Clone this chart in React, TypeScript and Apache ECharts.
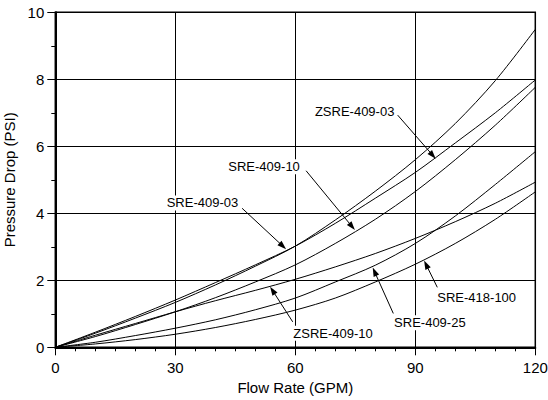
import React, { useEffect, useRef } from "react";
import * as echarts from "echarts";

const flowRate = [0, 10, 20, 30, 40, 50, 60, 70, 80, 90, 100, 110, 120];
const sre40903 = [0, 0.42, 0.87, 1.34, 1.86, 2.42, 3.02, 3.8, 4.66, 5.6, 6.68, 7.96, 9.49];
const zsre40903 = [0, 0.45, 0.92, 1.41, 1.93, 2.46, 3.02, 3.7, 4.45, 5.22, 6.1, 7.0, 7.98];
const sre40910 = [0, 0.32, 0.68, 1.06, 1.48, 1.95, 2.46, 3.1, 3.82, 4.65, 5.6, 6.63, 7.76];
const zsre40910 = [0, 0.36, 0.71, 1.06, 1.39, 1.7, 2.03, 2.4, 2.8, 3.25, 3.75, 4.3, 4.93];
const sre40925 = [0, 0.15, 0.35, 0.57, 0.82, 1.12, 1.47, 1.95, 2.45, 3.1, 3.92, 4.86, 5.84];
const sre418100 = [0, 0.1, 0.23, 0.39, 0.59, 0.83, 1.11, 1.47, 1.95, 2.48, 3.1, 3.82, 4.64];

const seriesList = [
  { name: "SRE-409-03", values: sre40903 },
  { name: "ZSRE-409-03", values: zsre40903 },
  { name: "SRE-409-10", values: sre40910 },
  { name: "ZSRE-409-10", values: zsre40910 },
  { name: "SRE-409-25", values: sre40925 },
  { name: "SRE-418-100", values: sre418100 },
];

// annotation: label, text anchor (left-middle), leader tail, arrow tip — in data units
const annotations = [
  { label: "ZSRE-409-03", text: [64.9, 7.03], tail: [85.6, 6.93], tip: [95.1, 5.63] },
  { label: "SRE-409-10", text: [43.25, 5.39], tail: [62.7, 5.27], tip: [74.9, 3.5] },
  { label: "SRE-409-03", text: [27.85, 4.31], tail: [46.7, 4.15], tip: [57.7, 2.93] },
  { label: "ZSRE-409-10", text: [59.5, 0.42], tail: [59.35, 0.76], tip: [53.7, 1.81] },
  { label: "SRE-409-25", text: [84.7, 0.73], tail: [84.5, 1.01], tip: [79.35, 2.38] },
  { label: "SRE-418-100", text: [95.5, 1.49], tail: [95.5, 1.79], tip: [92.2, 2.59] },
];

const FONT = '"Liberation Sans", Arial, Helvetica, sans-serif';

export default function App() {
  const ref = useRef<HTMLDivElement>(null);
  useEffect(() => {
    if (!ref.current) return;
    const chart = echarts.init(ref.current, null, { renderer: "svg" });
    chart.setOption({
      animation: false,
      backgroundColor: "#fff",
      textStyle: { fontFamily: FONT, color: "#000" },
      grid: {
        left: 55.3,
        right: 12.7,
        top: 12.3,
        bottom: 52.7,
        containLabel: false,
        outerBoundsMode: "none",
        show: true,
        borderColor: "#000",
        borderWidth: 1.5,
        backgroundColor: "transparent",
      },
      xAxis: {
        type: "value",
        min: 0,
        max: 120,
        interval: 30,
        name: "Flow Rate (GPM)",
        nameLocation: "middle",
        nameGap: 33,
        nameTextStyle: { fontSize: 15, color: "#000", fontFamily: FONT },
        axisLine: { show: true, lineStyle: { color: "#000", width: 2 } },
        axisTick: { show: true, inside: false, length: 8, lineStyle: { color: "#000", width: 1 } },
        minorTick: { show: true, splitNumber: 6, length: 4, lineStyle: { color: "#000", width: 1 } },
        axisLabel: { fontSize: 15, color: "#000", margin: 13, fontFamily: FONT },
        splitLine: { show: true, lineStyle: { color: "#000", width: 1 } },
      },
      yAxis: {
        type: "value",
        min: 0,
        max: 10,
        interval: 2,
        name: "Pressure Drop (PSI)",
        nameLocation: "middle",
        nameGap: 36,
        nameTextStyle: { fontSize: 15, color: "#000", fontFamily: FONT },
        axisLine: { show: true, lineStyle: { color: "#000", width: 2 } },
        axisTick: { show: true, inside: false, length: 8, lineStyle: { color: "#000", width: 1 } },
        minorTick: { show: true, splitNumber: 2, length: 4, lineStyle: { color: "#000", width: 1 } },
        axisLabel: { fontSize: 15, color: "#000", margin: 11, fontFamily: FONT },
        splitLine: { show: true, lineStyle: { color: "#000", width: 1 } },
      },
      series: seriesList.map((s) => ({
        name: s.name,
        type: "line",
        data: flowRate.map((x, i) => [x, s.values[i]]),
        smooth: 0.3,
        showSymbol: false,
        symbol: "none",
        lineStyle: { color: "#000", width: 1 },
        z: 3,
      })),
    });

    const toPx = (p: number[]) => chart.convertToPixel({ gridIndex: 0 }, p) as number[];
    const graphic: any[] = [];
    annotations.forEach((a) => {
      const tail = toPx(a.tail);
      const tip = toPx(a.tip);
      const t = toPx(a.text);
      const dx = tip[0] - tail[0];
      const dy = tip[1] - tail[1];
      const len = Math.sqrt(dx * dx + dy * dy);
      const ux = dx / len;
      const uy = dy / len;
      const L = 9;
      const W = 3;
      const bx = tip[0] - ux * L;
      const by = tip[1] - uy * L;
      graphic.push({
        type: "text",
        x: t[0] - 2,
        y: t[1],
        z: 10,
        style: {
          text: a.label,
          fill: "#000",
          font: `13px ${FONT}`,
          align: "left",
          verticalAlign: "middle",
          backgroundColor: "#fff",
          padding: [1, 2],
        },
      });
      graphic.push({
        type: "line",
        z: 11,
        shape: { x1: tail[0], y1: tail[1], x2: bx + ux * 1, y2: by + uy * 1 },
        style: { stroke: "#000", lineWidth: 1 },
      });
      graphic.push({
        type: "polygon",
        z: 11,
        shape: {
          points: [
            [tip[0], tip[1]],
            [bx - uy * W, by + ux * W],
            [bx + uy * W, by - ux * W],
          ],
        },
        style: { fill: "#000" },
      });
    });
    chart.setOption({ graphic });
    return () => chart.dispose();
  }, []);
  return (
    <div
      ref={ref}
      style={{ position: "fixed", left: 0, top: 0, width: 548, height: 400, background: "#fff" }}
    />
  );
}
